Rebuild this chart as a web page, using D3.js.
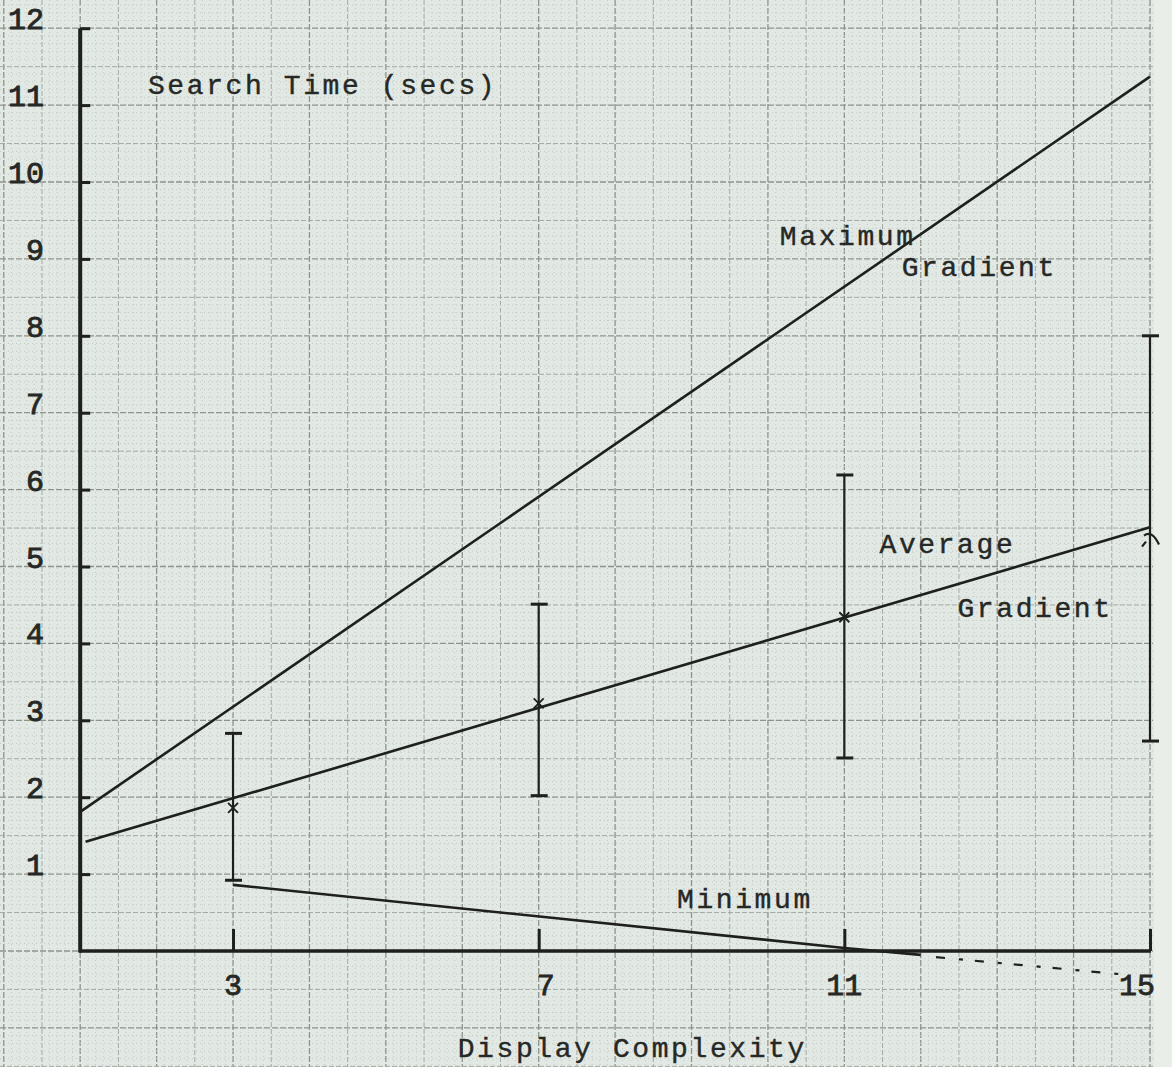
<!DOCTYPE html>
<html>
<head>
<meta charset="utf-8">
<script src="https://cdn.jsdelivr.net/npm/d3@7"></script>
<style>
  html, body { margin: 0; padding: 0; background: #e9eee9; }
  svg { display: block; }
  text { font-family: "Liberation Mono", "DejaVu Sans Mono", monospace; fill: #262826; }
</style>
</head>
<body>
<svg id="chart" width="1172" height="1067"></svg>
<script>
// Display complexity levels measured
const complexity = [3, 7, 11, 15];
// Mean search time (secs) at each level
const meanTime = [1.86, 3.22, 4.34, 5.35];
// Range of observed search times
const lowTime = [0.92, 2.02, 2.51, 2.73];
const highTime = [2.83, 4.51, 6.19, 8.0];

// Fitted lines (complexity, secs)
const maxGradient = [[1, 1.81], [15, 11.37]];
const avgGradient = [[1.07, 1.42], [15, 5.51]];
const minGradient = [[3, 0.86], [11, 0.04], [12.0, -0.05]];
const minExtension = [[12.2, -0.08], [14.7, -0.31]];

const yTicks = [1, 2, 3, 4, 5, 6, 7, 8, 9, 10, 11, 12];
const xTicks = [3, 7, 11, 15];

// Hand-typed annotations, placed in chart units
const notes = [
  { text: "Search Time (secs)", x: 1.887, y: 11.14 },
  { text: "Maximum", x: 10.156, y: 9.18 },
  { text: "Gradient", x: 11.75, y: 8.78 },
  { text: "Average", x: 11.46, y: 5.18 },
  { text: "Gradient", x: 12.48, y: 4.34 },
  { text: "Minimum", x: 8.81, y: 0.56 },
  { text: "Display Complexity", x: 5.94, y: -1.38 }
];

const svg = d3.select("#chart");
const W = 1172, H = 1067;

const x = d3.scaleLinear().domain([1, 15]).range([80.2, 1150]);
const y = d3.scaleLinear().domain([0, 12]).range([951, 28.2]);

// paper
svg.append("rect").attr("width", W).attr("height", H).attr("fill", "#e9eee9");
svg.append("rect").attr("width", 1154).attr("height", H).attr("fill", "#e2e8e3");

// graph-paper grid: fine dotted rules, dashed half-unit and unit rules
const grid = svg.append("g");
const gx = d3.range(-1, 151).map(i => i / 10);      // 0.1 unit steps
const gy = d3.range(-16, 125).map(i => i / 10);
const level = v => {
  const k = Math.round(v * 10);
  return k % 10 === 0 ? 2 : (k % 5 === 0 ? 1 : 0);
};
const styleOf = [
  { s: "#c3c9c3", w: 1, d: "1,3" },
  { s: "#a3a9a3", w: 1, d: "5,2" },
  { s: "#8d938d", w: 1.3, d: "6,2" }
];
gx.forEach(v => {
  const st = styleOf[level(v)];
  grid.append("line")
    .attr("x1", x(v)).attr("x2", x(v)).attr("y1", 0).attr("y2", H)
    .attr("stroke", st.s).attr("stroke-width", st.w).attr("stroke-dasharray", st.d);
});
gy.forEach(v => {
  const st = styleOf[level(v)];
  grid.append("line")
    .attr("x1", 0).attr("x2", 1153).attr("y1", y(v)).attr("y2", y(v))
    .attr("stroke", st.s).attr("stroke-width", st.w).attr("stroke-dasharray", st.d);
});

const ink = "#1e201e";

// axes
const yAxis = d3.axisRight(y).tickValues(yTicks).tickSize(10).tickFormat("");
const gY = svg.append("g").attr("transform", `translate(${x(1)},0)`).call(yAxis);
gY.select(".domain").remove();
gY.selectAll(".tick line").attr("stroke", ink).attr("stroke-width", 3);

const xAxis = d3.axisTop(x).tickValues(xTicks).tickSize(22).tickFormat("");
const gX = svg.append("g").attr("transform", `translate(0,${y(0)})`).call(xAxis);
gX.select(".domain").remove();
gX.selectAll(".tick line").attr("stroke", ink).attr("stroke-width", 3);

svg.append("line")
  .attr("x1", x(1)).attr("x2", x(1)).attr("y1", y(12)).attr("y2", y(0) + 1.5)
  .attr("stroke", ink).attr("stroke-width", 4);
svg.append("line")
  .attr("x1", x(1) - 1).attr("x2", x(15) + 1).attr("y1", y(0)).attr("y2", y(0))
  .attr("stroke", ink).attr("stroke-width", 3.5);

// tick labels
svg.append("g").selectAll("text").data(yTicks).join("text")
  .attr("x", 44).attr("y", d => y(d) + 1)
  .attr("text-anchor", "end")
  .attr("font-size", 30)
  .attr("stroke", "#262826").attr("stroke-width", 0.9)
  .text(d => d);

svg.append("g").selectAll("text").data(xTicks).join("text")
  .attr("x", d => x(d) + (d === 7 ? 7 : d === 15 ? -13 : 0)).attr("y", 995)
  .attr("text-anchor", "middle")
  .attr("font-size", 30)
  .attr("stroke", "#262826").attr("stroke-width", 0.8)
  .text(d => d);

// fitted lines
const line = d3.line().x(d => x(d[0])).y(d => y(d[1]));
[maxGradient, avgGradient, minGradient].forEach(pts => {
  svg.append("path").attr("d", line(pts))
    .attr("fill", "none").attr("stroke", ink).attr("stroke-width", 2.6);
});
svg.append("path").attr("d", line(minExtension))
  .attr("fill", "none").attr("stroke", ink).attr("stroke-width", 2.2)
  .attr("stroke-dasharray", "9,14,4,12");

// error bars
const bars = svg.append("g");
complexity.forEach((c, i) => {
  const cx = x(c);
  bars.append("line")
    .attr("x1", cx).attr("x2", cx).attr("y1", y(highTime[i])).attr("y2", y(lowTime[i]))
    .attr("stroke", ink).attr("stroke-width", 2.2);
  [highTime[i], lowTime[i]].forEach(v => {
    bars.append("line")
      .attr("x1", cx - 8).attr("x2", cx + 9).attr("y1", y(v)).attr("y2", y(v))
      .attr("stroke", ink).attr("stroke-width", 3);
  });
});

// mean markers
const marks = svg.append("g");
complexity.forEach((c, i) => {
  const g = marks.append("g").attr("transform", `translate(${x(c)},${y(meanTime[i])})`);
  if (c === 15) {
    g.append("path").attr("d", "M -6,-4 Q 2,-10 9,5 M -8,7 L -4,2")
      .attr("fill", "none").attr("stroke", ink).attr("stroke-width", 2.2);
  } else {
    g.append("path").attr("d", "M -5,-5 L 5,5 M -5,5 L 5,-5")
      .attr("fill", "none").attr("stroke", ink).attr("stroke-width", 1.8);
  }
});

// annotations
svg.append("g").selectAll("text").data(notes).join("text")
  .attr("x", d => x(d.x)).attr("y", d => y(d.y))
  .attr("font-size", 28)
  .attr("letter-spacing", 2.6)
  .attr("stroke", "#262826").attr("stroke-width", 0.4)
  .text(d => d.text);
</script>
</body>
</html>
